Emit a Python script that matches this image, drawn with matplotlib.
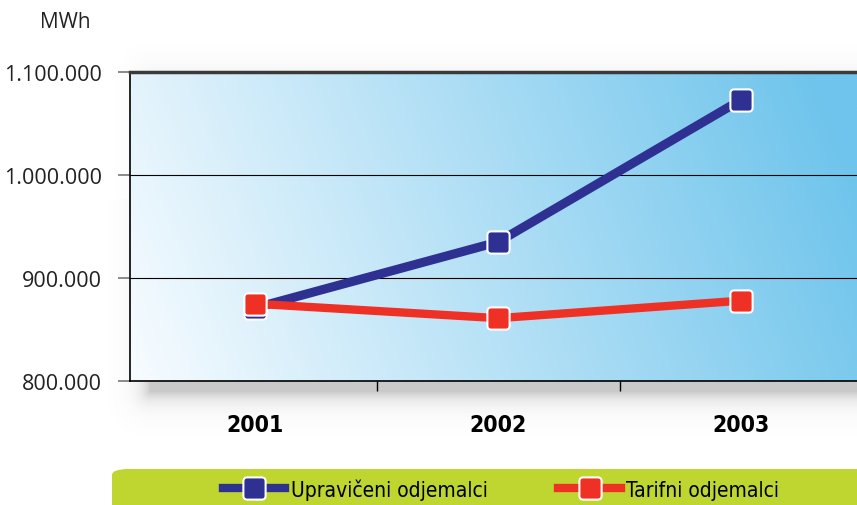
import numpy as np
import matplotlib.pyplot as plt
from matplotlib.path import Path
from matplotlib.patches import FancyBboxPatch
from matplotlib.lines import Line2D
from matplotlib.ticker import FuncFormatter

years = ["2001", "2002", "2003"]
upraviceni = [871000, 935000, 1073000]
tarifni = [875000, 861000, 878000]
y_ticks = [800000, 900000, 1000000, 1100000]
labels = ["Upravičeni odjemalci", "Tarifni odjemalci"]

BLUE = "#2e3192"
RED = "#ee3124"
GREEN = "#bed62f"


def rounded_square(r=0.35):
    # closed square -1..1 with rounded corners
    v = [(-1 + r, -1), (1 - r, -1), (1, -1), (1, -1 + r), (1, 1 - r), (1, 1),
         (1 - r, 1), (-1 + r, 1), (-1, 1), (-1, 1 - r), (-1, -1 + r), (-1, -1),
         (-1 + r, -1), (-1 + r, -1)]
    c = [Path.MOVETO, Path.LINETO, Path.CURVE3, Path.CURVE3, Path.LINETO,
         Path.CURVE3, Path.CURVE3, Path.LINETO, Path.CURVE3, Path.CURVE3,
         Path.LINETO, Path.CURVE3, Path.CURVE3, Path.CLOSEPOLY]
    return Path(v, c)


marker = rounded_square()
cond = {"family": "DejaVu Sans", "stretch": "condensed"}

fig = plt.figure(figsize=(8.57, 5.06), dpi=100)
fig.patch.set_facecolor("white")

ax_rect = [130 / 857, 1 - 382 / 506, 729 / 857, 309 / 506]

# soft shadow under the plot area
sh = fig.add_axes([0, 0, 1, 1], zorder=0)
sh.set_axis_off()
xx, yy = np.meshgrid(np.arange(857), np.arange(506))
x0, x1, y0, y1 = 150, 880, 80, 392
dx = np.maximum(np.maximum(x0 - xx, xx - x1), 0)
dy = np.maximum(np.maximum(y0 - yy, yy - y1), 0)
d = np.hypot(dx, dy)
alpha = 0.38 * np.exp(-d / 10.0)
alpha[yy < 200] *= 0.4
img = np.zeros((506, 857, 4))
img[..., :3] = 0.45
img[..., 3] = alpha
sh.imshow(img, extent=(0, 857, 506, 0), aspect="auto")
sh.set_xlim(0, 857)
sh.set_ylim(506, 0)

ax = fig.add_axes(ax_rect, zorder=1)
x = np.arange(len(years))

# background gradient
gx, gy = np.meshgrid(np.linspace(0, 1, 300), np.linspace(0, 1, 200))
t = np.clip(0.9 * gx + 0.15 * gy, 0, 1)
c0 = np.array([248, 252, 255]) / 255
c1 = np.array([110, 196, 236]) / 255
grad = c0 + (c1 - c0) * t[..., None]
ax.imshow(grad, extent=(0, 1, 0, 1), transform=ax.transAxes, origin="lower",
          aspect="auto", zorder=0)

ax.plot(x, upraviceni, color=BLUE, lw=6.5, marker=marker, ms=16,
        mfc=BLUE, mec="white", mew=1.5, solid_capstyle="butt", zorder=3)
ax.plot(x, tarifni, color=RED, lw=6, marker=marker, ms=16,
        mfc=RED, mec="white", mew=1.5, solid_capstyle="butt", zorder=4)

ax.set_xlim(-0.515, 2.485)
ax.set_ylim(800000, 1100000)
ax.set_yticks(y_ticks)
ax.yaxis.set_major_formatter(FuncFormatter(lambda v, p: f"{int(v):,}".replace(",", ".")))
for lab in ax.get_yticklabels():
    lab.set_family("Open Sans")
ax.grid(axis="y", color="black", lw=0.8)
ax.set_axisbelow(True)
ax.tick_params(axis="y", length=9, width=1.2, color="#777777", pad=11,
               labelsize=15.5, labelcolor="#222222")

ax.set_xticks([0.5, 1.5])
ax.set_xticklabels([])
ax.tick_params(axis="x", which="major", length=7, width=1, color="black")
ax.set_xticks(x, minor=True)
ax.set_xticklabels(years, minor=True, fontweight="bold", fontsize=16.5, **cond)
ax.tick_params(axis="x", which="minor", length=0, pad=23)

for s in ["left", "bottom"]:
    ax.spines[s].set_color("black")
    ax.spines[s].set_linewidth(1.2)
ax.spines["top"].set_color("#3a3a3a")
ax.spines["top"].set_linewidth(2.5)
ax.spines["right"].set_visible(False)

fig.text(65 / 857, 1 - 22 / 506, "MWh", ha="center", va="center",
         fontsize=15, color="#222222", family="Open Sans")

# legend band
band = FancyBboxPatch((112 / 857, -0.05), 0.9, (0.05 + 36 / 506),
                      boxstyle="round,pad=0,rounding_size=0.02",
                      transform=fig.transFigure, facecolor=GREEN,
                      edgecolor="none", zorder=2, mutation_aspect=506 / 857)
fig.patches.append(band)

handles = [
    Line2D([], [], color=BLUE, lw=6, marker=marker, ms=16, mfc=BLUE,
           mec="white", mew=1.5),
    Line2D([], [], color=RED, lw=6, marker=marker, ms=16, mfc=RED,
           mec="white", mew=1.5),
]
leg = fig.legend(handles, labels, loc="center", ncol=2, frameon=False,
                 bbox_to_anchor=(501 / 857, 1 - 490 / 506), handlelength=3.0,
                 handletextpad=0.25, columnspacing=3.4,
                 prop={"family": "DejaVu Sans", "stretch": "condensed",
                       "size": 15})
leg.set_zorder(5)

fig.savefig("out.png", dpi=100)
